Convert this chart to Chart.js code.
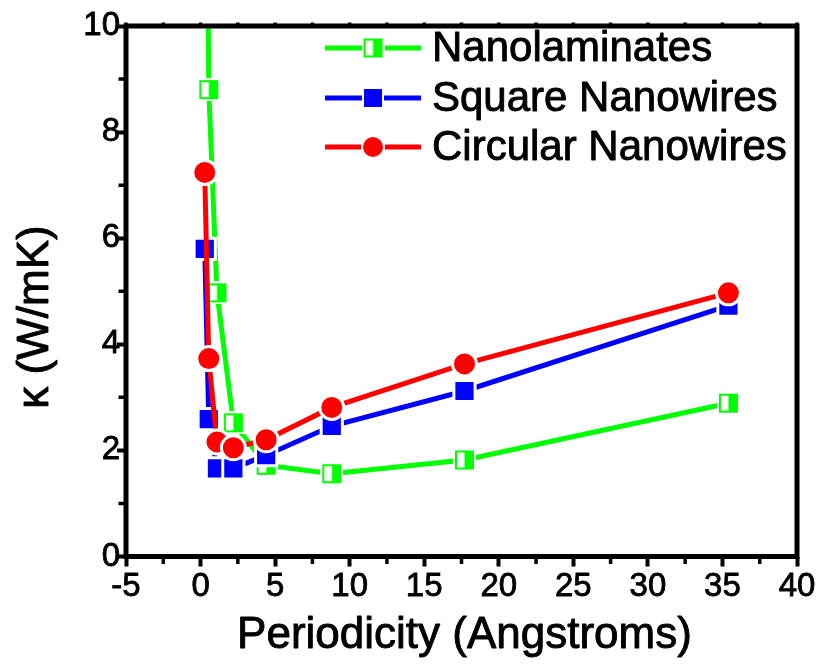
<!DOCTYPE html>
<html>
<head>
<meta charset="utf-8">
<script src="https://cdn.jsdelivr.net/npm/chart.js@4.4.1/dist/chart.umd.min.js"></script>
<style>
  html, body { margin: 0; padding: 0; background: #ffffff; }
  #wrap { width: 821px; height: 668px; }
</style>
</head>
<body>
<div id="wrap"><canvas id="c" width="821" height="668"></canvas></div>
<script>
// ---- data ----
const periodicity = [0.28, 0.55, 1.1, 2.2, 4.4, 8.8, 17.7, 35.4];
const nanolaminates = [20, 8.8, 4.97, 2.52, 1.72, 1.56, 1.82, 2.89];
const squareNanowires = [5.8, 2.59, 1.66, 1.66, 1.91, 2.46, 3.12, 4.73];
const circularNanowires = [7.24, 3.73, 2.16, 2.05, 2.2, 2.81, 3.63, 4.97];
const seriesNames = ['Nanolaminates', 'Square Nanowires', 'Circular Nanowires'];
const xTickValues = [-5, 0, 5, 10, 15, 20, 25, 30, 35, 40];
const yTickValues = [0, 2, 4, 6, 8, 10];
const xMinorTicks = [-2.5, 2.5, 7.5, 12.5, 17.5, 22.5, 27.5, 32.5, 37.5];
const yMinorTicks = [1, 3, 5, 7, 9];
const xTitle = 'Periodicity (Angstroms)';
const yTitle = '\u03BA (W/mK)';

const GREEN = '#00FF00', BLUE = '#0000FF', RED = '#FF0000';
const FONT = "'Liberation Sans', Arial, sans-serif";

function pts(xs, ys) { return xs.map((x, i) => ({ x: x, y: ys[i] })); }

// half-filled square marker (left half open, right half filled)
function halfSquare(size, ring) {
  const total = size + 2 * ring;
  const cv = document.createElement('canvas');
  cv.width = total; cv.height = total;
  const g = cv.getContext('2d');
  g.fillStyle = '#ffffff';
  g.fillRect(0, 0, total, total);
  g.fillStyle = GREEN;
  g.fillRect(ring, ring, size, size);
  g.fillStyle = '#ffffff';
  g.fillRect(ring + 2, ring + 2, size / 2 - 2, size - 4);
  return cv;
}
const greenMarker = halfSquare(19, 2);

function heavyText(ctx, text, x, y, size) {
  ctx.font = size + 'px ' + FONT;
  ctx.fillStyle = '#000';
  ctx.strokeStyle = '#000';
  ctx.lineWidth = 0.9;
  ctx.lineJoin = 'round';
  ctx.fillText(text, x, y);
  ctx.strokeText(text, x, y);
}

const framePlugin = {
  id: 'framePlugin',
  afterDraw(chart) {
    const ctx = chart.ctx;
    const a = chart.chartArea;
    const xs = chart.scales.x, ys = chart.scales.y;
    ctx.save();
    ctx.strokeStyle = '#000';
    ctx.lineWidth = 5;
    ctx.lineJoin = 'miter';
    ctx.strokeRect(a.left, a.top, a.right - a.left, a.bottom - a.top);
    // minor ticks
    ctx.lineWidth = 3.5;
    ctx.beginPath();
    xMinorTicks.forEach(v => {
      const px = xs.getPixelForValue(v);
      ctx.moveTo(px, a.bottom); ctx.lineTo(px, a.bottom + 7.5);
      ctx.moveTo(px, a.top); ctx.lineTo(px, a.top - 3.5);
    });
    yMinorTicks.forEach(v => {
      const py = ys.getPixelForValue(v);
      ctx.moveTo(a.left, py); ctx.lineTo(a.left - 7.5, py);
    });
    xTickValues.forEach(v => {
      const px = xs.getPixelForValue(v);
      ctx.moveTo(px, a.top); ctx.lineTo(px, a.top - 3.5);
    });
    ctx.stroke();
    ctx.restore();

    // axis titles
    ctx.save();
    ctx.textAlign = 'center';
    ctx.textBaseline = 'middle';
    heavyText(ctx, xTitle, (a.left + a.right) / 2 + 3, 636, 44);
    ctx.translate(36, 317);
    ctx.rotate(-Math.PI / 2);
    heavyText(ctx, yTitle, 0, 0, 44);
    ctx.restore();

    // legend
    ctx.save();
    const rowsY = [48, 98, 147];
    const x0 = 325, x1 = 421, xm = 373, xt = 432;
    chart.data.datasets.forEach((ds, i) => {
      const y = rowsY[i];
      ctx.strokeStyle = ds.borderColor;
      ctx.lineWidth = 5;
      ctx.beginPath();
      ctx.moveTo(x0, y); ctx.lineTo(x1, y);
      ctx.stroke();
      if (ds.pointStyle === 'rect') {
        ctx.fillStyle = '#fff';
        ctx.fillRect(xm - 11, y - 11, 22, 22);
        ctx.fillStyle = ds.pointBackgroundColor;
        ctx.fillRect(xm - 9, y - 9, 18, 18);
      } else if (ds.pointStyle === 'circle') {
        ctx.fillStyle = '#fff';
        ctx.beginPath(); ctx.arc(xm, y, 12, 0, Math.PI * 2); ctx.fill();
        ctx.fillStyle = ds.pointBackgroundColor;
        ctx.beginPath(); ctx.arc(xm, y, 10, 0, Math.PI * 2); ctx.fill();
      } else {
        ctx.drawImage(ds.pointStyle, xm - ds.pointStyle.width / 2, y - ds.pointStyle.height / 2);
      }
      ctx.textAlign = 'left';
      ctx.textBaseline = 'middle';
      heavyText(ctx, ds.label, xt, y + 1, 42);
    });
    ctx.restore();
  }
};

new Chart(document.getElementById('c'), {
  type: 'line',
  data: {
    datasets: [
      {
        label: seriesNames[0],
        data: pts(periodicity, nanolaminates),
        borderColor: GREEN, backgroundColor: GREEN,
        pointBackgroundColor: GREEN,
        borderWidth: 5, pointStyle: greenMarker, pointRadius: 12,
        order: 3, clip: 2
      },
      {
        label: seriesNames[1],
        data: pts(periodicity, squareNanowires),
        borderColor: BLUE, backgroundColor: BLUE,
        pointBackgroundColor: BLUE, pointBorderColor: '#ffffff', pointBorderWidth: 3,
        borderWidth: 5, pointStyle: 'rect', pointRadius: 15,
        order: 2, clip: 2
      },
      {
        label: seriesNames[2],
        data: pts(periodicity, circularNanowires),
        borderColor: RED, backgroundColor: RED,
        pointBackgroundColor: RED, pointBorderColor: '#ffffff', pointBorderWidth: 3,
        borderWidth: 5, pointStyle: 'circle', pointRadius: 12,
        order: 1, clip: 2
      }
    ]
  },
  options: {
    responsive: false,
    animation: false,
    devicePixelRatio: 1,
    layout: { padding: { top: 26, right: 24, left: 0, bottom: 0 } },
    plugins: { legend: { display: false }, tooltip: { enabled: false } },
    elements: { line: { tension: 0 }, point: { hoverRadius: 12 } },
    scales: {
      x: {
        type: 'linear', min: -5, max: 40,
        afterFit(s) { s.height = 668 - 556.5; },
        afterBuildTicks(s) { s.ticks = xTickValues.map(v => ({ value: v })); },
        ticks: { color: '#000', font: { family: FONT, size: 33 }, padding: 1, maxRotation: 0, autoSkip: false,
                 textStrokeColor: '#000', textStrokeWidth: 0.8 },
        grid: { drawOnChartArea: false, drawTicks: true, tickLength: 10, tickWidth: 4, tickColor: '#000' },
        border: { display: false }
      },
      y: {
        type: 'linear', min: 0, max: 10,
        afterFit(s) { s.width = 126; },
        afterBuildTicks(s) { s.ticks = yTickValues.map(v => ({ value: v })); },
        ticks: { color: '#000', font: { family: FONT, size: 33 }, padding: -3, autoSkip: false,
                 textStrokeColor: '#000', textStrokeWidth: 0.8 },
        grid: { drawOnChartArea: false, drawTicks: true, tickLength: 9, tickWidth: 4, tickColor: '#000' },
        border: { display: false }
      }
    }
  },
  plugins: [framePlugin]
});
</script>
</body>
</html>
